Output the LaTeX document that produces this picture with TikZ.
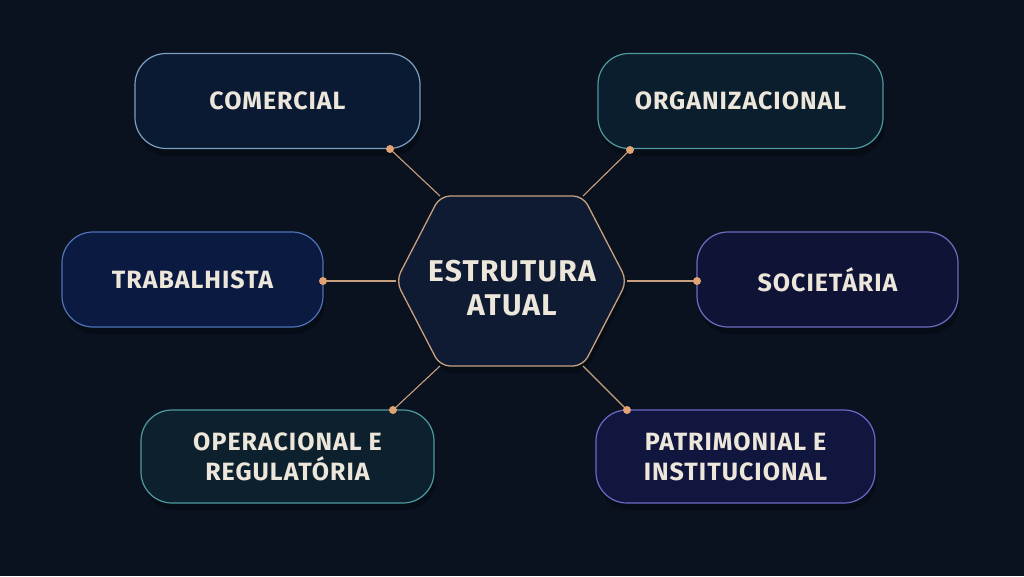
\documentclass[tikz,border=0pt]{standalone}
\usepackage{fontspec}
\setmainfont{Fira Sans}[LetterSpace=4]
\definecolor{bgc}{HTML}{0A1220}
\definecolor{txt}{HTML}{EDE6DA}
\definecolor{dotc}{HTML}{E2A374}
\definecolor{linec}{HTML}{C8A07E}
\definecolor{hexfill}{HTML}{0E1B33}
\definecolor{comF}{HTML}{0A1A33}\definecolor{comD}{HTML}{7C9FC0}
\definecolor{orgF}{HTML}{0A1E2D}\definecolor{orgD}{HTML}{4F9A9F}
\definecolor{traF}{HTML}{0B1A40}\definecolor{traD}{HTML}{5072B8}
\definecolor{socF}{HTML}{0F1436}\definecolor{socD}{HTML}{6C6CC0}
\definecolor{opeF}{HTML}{0C202D}\definecolor{opeD}{HTML}{4E9AA0}
\definecolor{patF}{HTML}{11163F}\definecolor{patD}{HTML}{6E66C8}
\tikzset{
  box/.style={rounded corners=31pt, line width=1.2pt, minimum height=95pt,
    text=txt, font=\fontsize{25}{30}\selectfont\bfseries, align=center, inner sep=0pt},
  shadowbox/.style={rounded corners=31pt, fill=black, opacity=0.25},
  link/.style={draw=linec, line width=1.1pt},
  dotmark/.style={fill=dotc},
}
\begin{document}
\begin{tikzpicture}[x=1pt,y=-1pt]
\fill[bgc] (0,0) rectangle (1024,576);
\useasboundingbox (0,0) rectangle (1024,576);

% shadows
\foreach \xa/\ya/\xb/\yb in {135/53/420/149, 598/53/883/149, 62/232/323/327, 697/232/958/327, 141/410/434/503, 596/410/875/503}{
  \fill[shadowbox] (\xa+2,\ya+7) rectangle (\xb+2,\yb+7);
}

% boxes
\node[box, fill=comF, draw=comD, minimum width=285pt] (com) at (277.5,101) {COMERCIAL};
\node[box, fill=orgF, draw=orgD, minimum width=285pt] (org) at (740.5,101) {ORGANIZACIONAL};
\node[box, fill=traF, draw=traD, minimum width=261pt] (tra) at (192.5,279.5) {TRABALHISTA};
\node[box, fill=socF, draw=socD, minimum width=261pt] (soc) at (827.5,279.5) {SOCIETÁRIA};
\node[box, fill=opeF, draw=opeD, minimum width=293pt, minimum height=93pt] (ope) at (287.5,456.5) {OPERACIONAL E\\REGULATÓRIA};
\node[box, fill=patF, draw=patD, minimum width=279pt, minimum height=93pt] (pat) at (735.5,456.5) {PATRIMONIAL E\\INSTITUCIONAL};

% hexagon
\coordinate (hL) at (396,281);
\coordinate (hTL) at (440,196);
\coordinate (hTR) at (583,196);
\coordinate (hR) at (627,281);
\coordinate (hBR) at (583,366);
\coordinate (hBL) at (440,366);
\fill[black, opacity=0.25, rounded corners=10pt] ([shift={(2,7)}]hL) -- ([shift={(2,7)}]hTL) -- ([shift={(2,7)}]hTR) -- ([shift={(2,7)}]hR) -- ([shift={(2,7)}]hBR) -- ([shift={(2,7)}]hBL) -- cycle;
\draw[fill=hexfill, draw=linec, line width=1.3pt, rounded corners=10pt] (hL) -- (hTL) -- (hTR) -- (hR) -- (hBR) -- (hBL) -- cycle;
\node[text=txt, font=\fontsize{30}{34}\selectfont\bfseries, align=center] (hub) at (512,288) {ESTRUTURA\\ATUAL};

% connector anchors
\coordinate (cCom) at (390,149);
\coordinate (cOrg) at (630,150);
\coordinate (cTra) at (323,281);
\coordinate (cSoc) at (697,281);
\coordinate (cOpe) at (393,410);
\coordinate (cPat) at (627,410);

\draw[link] (cCom) -- (hTL);
\draw[link] (cOrg) -- (hTR);
\draw[link] (cTra) -- (hL);
\draw[link] (cSoc) -- (hR);
\draw[link] (cOpe) -- (hBL);
\draw[link] (cPat) -- (hBR);

\foreach \c in {cCom,cOrg,cTra,cSoc,cOpe,cPat}{
  \fill[dotmark] (\c) circle (4pt);
}
\end{tikzpicture}
\end{document}
